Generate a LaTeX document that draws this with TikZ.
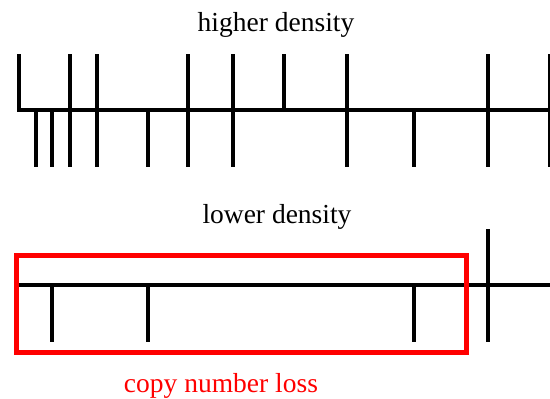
\documentclass[tikz,border=0pt]{standalone}
\usepackage{fontspec}
\setmainfont{Liberation Serif}
\newfontfamily\timesfont{Liberation Serif}
\begin{document}
\begin{tikzpicture}[
        x=1pt, y=1pt,
        font=\timesfont\fontsize{27.5}{30}\selectfont
    ]
    \tikzset{
        strand/.style = {line width=4.6pt, black},
        tickup/.style = {line width=4.6pt, black},
        lossbox/.style = {line width=5pt, red},
        label/.style = {anchor=base, inner sep=0pt},
    }
    \useasboundingbox (0,0) rectangle (550,399);
    % higher density
    \node[label] (hi) at (276,367) {higher density};
    \draw[strand] (17,289) -- (550,289);
    \foreach \x in {19,284}
        \draw[tickup] (\x,289) -- (\x,345);
    \foreach \x in {36,52,148,414}
        \draw[tickup] (\x,289) -- (\x,232);
    \foreach \x in {70,97,188,233,347,488,550}
        \draw[tickup] (\x,232) -- (\x,345);
    % lower density
    \node[label] (lo) at (277,175) {lower density};
    \draw[strand] (16,114) -- (550,114);
    \foreach \x in {52,148,414}
        \draw[tickup] (\x,114) -- (\x,57);
    \draw[tickup] (488,57) -- (488,170);
    \draw[lossbox] (16,46) rectangle (466,143);
    \node[label, text=red] (loss) at (221,6) {copy number loss};
\end{tikzpicture}
\end{document}
